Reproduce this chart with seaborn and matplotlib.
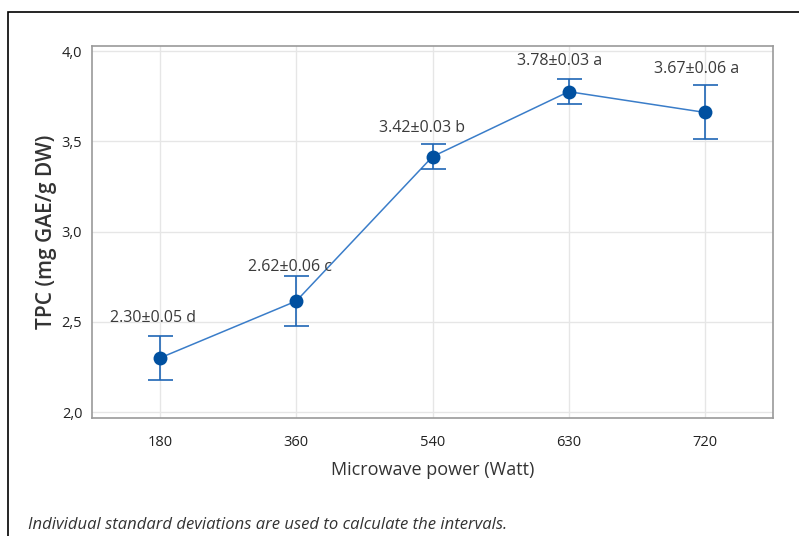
import numpy as np
import pandas as pd
import matplotlib
matplotlib.use("Agg")
import matplotlib.pyplot as plt
import seaborn as sns
from matplotlib.patches import Rectangle

power = ["180", "360", "540", "630", "720"]
tpc = [2.30, 2.615, 3.415, 3.775, 3.66]
ci = [0.12, 0.14, 0.07, 0.07, 0.15]
labels = ["2.30±0.05 d", "2.62±0.06 c", "3.42±0.03 b", "3.78±0.03 a", "3.67±0.06 a"]
yticks = [2.0, 2.5, 3.0, 3.5, 4.0]
ytick_labels = ["2,0", "2,5", "3,0", "3,5", "4,0"]

sns.set_theme(style="white")
plt.rcParams["font.family"] = ["Open Sans", "DejaVu Sans"]

df = pd.DataFrame({"power": power, "tpc": tpc})

fig = plt.figure(figsize=(7.99, 5.36), dpi=100)
ax = fig.add_axes([92/799, 118/536, 681/799, 372/536])

pos = np.arange(len(power))
line_col = "#3A7DC9"
mark_col = "#0050A0"

ax.errorbar(pos, tpc, yerr=ci, fmt="none", ecolor="#1F66B5", elinewidth=1.2,
            capsize=9, capthick=1.2, zorder=3)
sns.lineplot(data=df, x="power", y="tpc", ax=ax, color=line_col, linewidth=1.1,
             sort=False, zorder=2)
sns.scatterplot(data=df, x="power", y="tpc", ax=ax, color=mark_col, s=100,
                edgecolor=mark_col, linewidth=0, zorder=4)

offsets = [0.10, 0.05, 0.09, 0.10, 0.09]
dx = [-0.05, -0.05, -0.08, -0.07, -0.06]
for i, (lab, v, c) in enumerate(zip(labels, tpc, ci)):
    ax.text(pos[i] + dx[i], v + c + offsets[i], lab, ha="center", va="center",
            fontsize=11.5, color="#3A3A3A")

ax.set_xlim(-0.5, 4.5)
ax.set_ylim(1.967, 4.028)
ax.set_yticks(yticks)
ax.set_yticklabels(ytick_labels)
ax.grid(True, color="#E6E6E6", linewidth=1.0)
ax.set_axisbelow(True)
for s in ax.spines.values():
    s.set_color("#9A9A9A")
    s.set_linewidth(1.2)
ax.tick_params(axis="both", which="both", direction="out", length=4, width=1,
               color="#666666", labelsize=10.5, labelcolor="#222222", pad=3)
ax.tick_params(axis="x", pad=8)
ax.set_xlabel("Microwave power (Watt)", fontsize=13, color="#333333", labelpad=8)
ax.set_ylabel("TPC (mg GAE/g DW)", fontsize=15, color="#333333", labelpad=3,
              fontweight="semibold")

fig.text(28/799, 1 - 525/536, "Individual standard deviations are used to calculate the intervals.",
         fontsize=12, style="italic", color="#333333", va="center", ha="left")

fig.patches.append(Rectangle((8/799, -0.1), 1.2, 1 - 12/536 + 0.1, transform=fig.transFigure,
                             fill=False, edgecolor="black", linewidth=1.2))

fig.savefig("out.png", dpi=100)
